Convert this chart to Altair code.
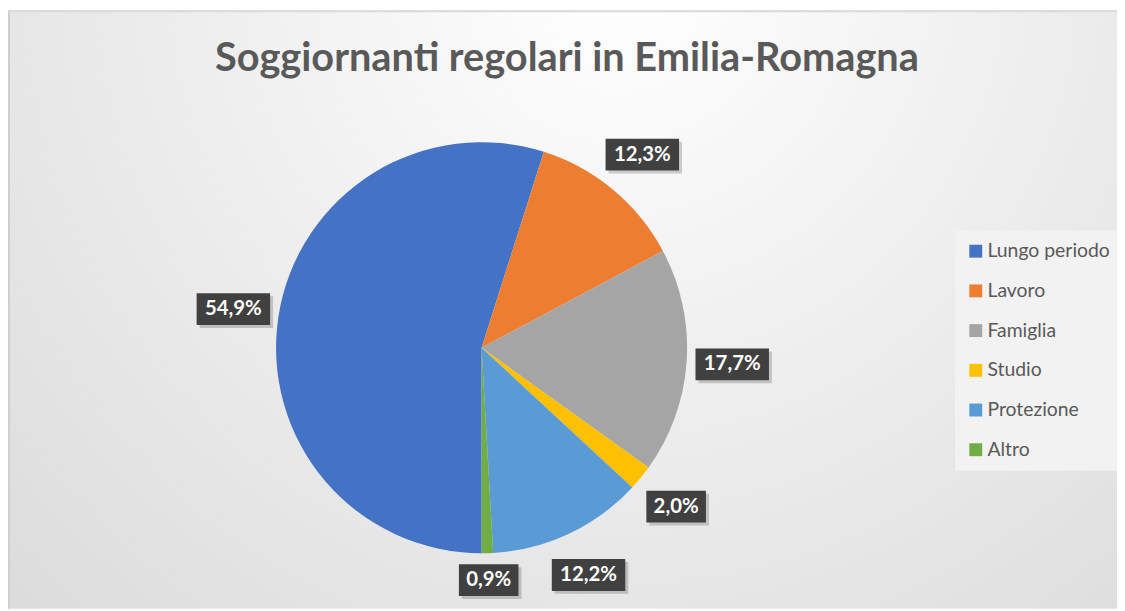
import math
import altair as alt
import pandas as pd

# ---- data ----
categories = ["Lungo periodo", "\u00a0Lavoro", "\u00a0Famiglia", "Studio", "Protezione", "Altro"]
values = [54.9, 12.3, 17.7, 2.0, 12.2, 0.9]
labels = ["54,9%", "12,3%", "17,7%", "2,0%", "12,2%", "0,9%"]
colors = ["#4472C4", "#ED7D31", "#A5A5A5", "#FFC000", "#5B9BD5", "#70AD47"]
title_text = "Soggiornanti regolari in Emilia-Romagna"

df = pd.DataFrame({"cat": categories, "value": values, "label": labels,
                   "idx": list(range(len(categories)))})

W, H = 1117, 603
CX, CY, R = 477, 340, 207
LR = 253

one = pd.DataFrame({"a": [0]})

bg = alt.Chart(one).mark_rect(
    fill=alt.RadialGradient(
        gradient="radial",
        stops=[alt.GradientStop(offset=0, color="#ffffff"),
               alt.GradientStop(offset=1, color="#d4d4d4")],
        x1=0.55, y1=0.2, r1=0, x2=0.55, y2=0.2, r2=0.95,
    )
).encode(x=alt.value(0), x2=alt.value(W), y=alt.value(0), y2=alt.value(H))

border_l = alt.Chart(one).mark_rule(color="#cfcfcf", strokeWidth=2).encode(
    x=alt.value(1), y=alt.value(0), y2=alt.value(H))
border_t = alt.Chart(one).mark_rule(color="#d9d9d9", strokeWidth=2).encode(
    x=alt.value(0), x2=alt.value(W), y=alt.value(1))

pie = alt.Chart(df).mark_arc(radius=R).encode(
    theta=alt.Theta("value:Q", stack=True,
                    scale=alt.Scale(range=[math.pi, 3 * math.pi])),
    color=alt.Color("cat:N", sort=categories,
                    scale=alt.Scale(domain=categories, range=colors),
                    legend=alt.Legend(
                        orient="none", legendX=954, legendY=222, title=None,
                        symbolType="square", symbolSize=169, symbolStrokeWidth=0,
                        labelFont="Lato", labelFontSize=19.5, labelColor="#595959",
                        labelOffset=2, rowPadding=19, padding=11,
                        fillColor="#f2f2f2")),
    order=alt.Order("idx:Q"),
    x=alt.value(CX), y=alt.value(CY),
)

lab = alt.Chart(df).transform_joinaggregate(
    total="sum(value)"
).transform_window(
    cum="sum(value)", sort=[alt.SortField("idx")], frame=[None, 0]
).transform_calculate(
    ang="PI + 2*PI*(datum.cum - datum.value/2)/datum.total",
    px=f"{CX} + {LR}*sin(datum.ang)",
    py=f"min({CY} - {LR}*cos(datum.ang), 574)",
    hw="length(datum.label)*7 + 2",
    bx1="datum.px - datum.hw",
    bx2="datum.px + datum.hw",
    by1="datum.py - 16",
    by2="datum.py + 16",
    sx1="datum.px - datum.hw + 3",
    sx2="datum.px + datum.hw + 3",
    sy1="datum.py - 13",
    sy2="datum.py + 19",
)

shadow = lab.mark_rect(color="#000000", opacity=0.18).encode(
    x=alt.X("sx1:Q", scale=None), x2="sx2:Q",
    y=alt.Y("sy1:Q", scale=None), y2="sy2:Q")

boxes = lab.mark_rect(color="#404040").encode(
    x=alt.X("bx1:Q", scale=None), x2="bx2:Q",
    y=alt.Y("by1:Q", scale=None), y2="by2:Q")

texts = lab.mark_text(font="Lato", fontWeight="bold", fontSize=20.5,
                      color="#ffffff", baseline="middle", align="center").encode(
    x=alt.X("px:Q", scale=None), y=alt.Y("py:Q", scale=None), text="label:N")

title = alt.Chart(one).mark_text(
    text=title_text, font="Lato", fontWeight="bold", fontSize=40,
    color="#595959", align="center", baseline="middle"
).encode(x=alt.value(563), y=alt.value(49))

chart = alt.layer(bg, border_l, border_t, pie, shadow, boxes, texts, title).properties(
    width=W, height=H, padding=0, autosize=alt.AutoSizeParams(type="none")
).configure_view(stroke=None)

chart.save("out.html", embed_options={"renderer": "svg", "actions": False})
